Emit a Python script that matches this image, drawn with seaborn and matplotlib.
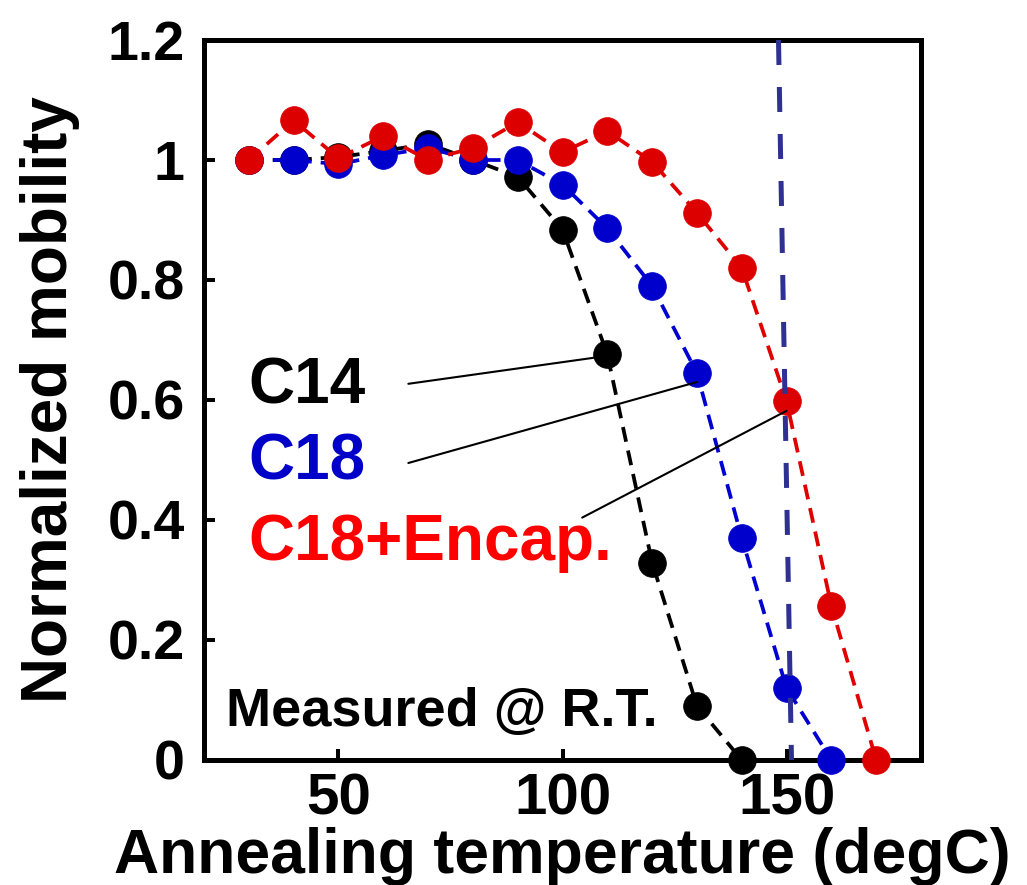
import numpy as np
import pandas as pd
import matplotlib
matplotlib.use("Agg")
import matplotlib.pyplot as plt
import seaborn as sns

# ---- data ----
temp_c14 = [30, 40, 50, 60, 70, 80, 90, 100, 110, 120, 130, 140]
mob_c14 = [1.0, 1.0, 1.005, 1.015, 1.027, 1.0, 0.972, 0.884, 0.676, 0.329, 0.09, 0.0]

temp_c18 = [30, 40, 50, 60, 70, 80, 90, 100, 110, 120, 130, 140, 150, 160]
mob_c18 = [1.0, 1.0, 0.993, 1.008, 1.02, 1.0, 1.0, 0.959, 0.886, 0.79, 0.645, 0.370, 0.12, 0.0]

temp_enc = [30, 40, 50, 60, 70, 80, 90, 100, 110, 120, 130, 140, 150, 160, 170]
mob_enc = [1.0, 1.066, 1.003, 1.04, 1.0, 1.02, 1.063, 1.013, 1.048, 0.997, 0.912, 0.82, 0.598, 0.257, 0.0]

limit_x = [148.2, 151.1]
limit_y = [1.2, 0.0]

series_names = ["C14", "C18", "C18+Encap."]
x_ticks = [50, 100, 150]
x_ticklabels = ["50", "100", "150"]
y_ticks = [0, 0.2, 0.4, 0.6, 0.8, 1.0, 1.2]
y_ticklabels = ["0", "0.2", "0.4", "0.6", "0.8", "1", "1.2"]

# ---- style ----
sns.set_theme(style="white")
plt.rcParams["font.family"] = ["Liberation Sans", "DejaVu Sans"]
plt.rcParams["font.weight"] = "bold"
plt.rcParams["text.color"] = "black"
plt.rcParams["axes.labelcolor"] = "black"
plt.rcParams["xtick.color"] = "black"
plt.rcParams["ytick.color"] = "black"

fig = plt.figure(figsize=(10.27, 8.85), dpi=100)
ax = fig.add_axes([204 / 1027, 1 - 760 / 885, (921 - 204) / 1027, (760 - 40) / 885])

line_colors = ["#000000", "#0000d0", "#e00000"]
marker_colors = ["#000000", "#0000cc", "#dd0000"]
datasets = [(temp_c14, mob_c14), (temp_c18, mob_c18), (temp_enc, mob_enc)]

for i, ((tx, my), name) in enumerate(zip(datasets, series_names)):
    df = pd.DataFrame({"temp": tx, "mob": my})
    sns.lineplot(data=df, x="temp", y="mob", ax=ax, color=line_colors[i],
                 linewidth=2.7, linestyle=(0, (4, 2.4)), marker="o",
                 markersize=20, markerfacecolor=marker_colors[i],
                 markeredgecolor=marker_colors[i], markeredgewidth=0.5,
                 clip_on=False, zorder=3 + i)

# vertical limit line
sns.lineplot(x=limit_x, y=limit_y, ax=ax, color="#2e3192", linewidth=3.6,
             linestyle=(0, (5, 4.4)), zorder=7, sort=False, estimator=None)

# annotation lines
ann_start = [(65.6, 0.627), (65.6, 0.495), (104.4, 0.404)]
ann_end = [(108.5, 0.672), (130, 0.63), (150, 0.582)]
for s, e in zip(ann_start, ann_end):
    ax.annotate("", xy=e, xytext=s,
                arrowprops=dict(arrowstyle="-", color="black", lw=1.5,
                                shrinkA=0, shrinkB=0), zorder=8)

text_colors = ["#000000", "#0000c8", "#ff0000"]
text_pos = [(29.8, 0.623), (29.8, 0.495), (29.8, 0.362)]
for name, c, (px, py) in zip(series_names, text_colors, text_pos):
    ax.text(px, py, name, color=c, fontsize=46, fontweight="bold",
            ha="left", va="center")

ax.text(25, 0.08, "Measured @ R.T.", color="black", fontsize=39,
        fontweight="bold", ha="left", va="center")

ax.set_xlim(20, 180)
ax.set_ylim(0, 1.2)
ax.set_xticks(x_ticks)
ax.set_xticklabels(x_ticklabels, fontsize=42, fontweight="bold")
ax.set_yticks(y_ticks)
ax.set_yticklabels(y_ticklabels, fontsize=40, fontweight="bold")
ax.tick_params(axis="both", direction="in", length=8, width=2.9,
               bottom=True, left=True, top=False, right=False, color="black")
ax.tick_params(axis="x", pad=9)
ax.tick_params(axis="y", pad=14)
for sp in ax.spines.values():
    sp.set_visible(True)
    sp.set_color("black")
    sp.set_linewidth(3.6)

ax.set_xlabel("Annealing temperature (degC)", fontsize=45, fontweight="bold",
              labelpad=0)
ax.set_ylabel("Normalized mobility", fontsize=46, fontweight="bold",
              labelpad=20)
ax.grid(False)

fig.savefig("out.png", dpi=100)
